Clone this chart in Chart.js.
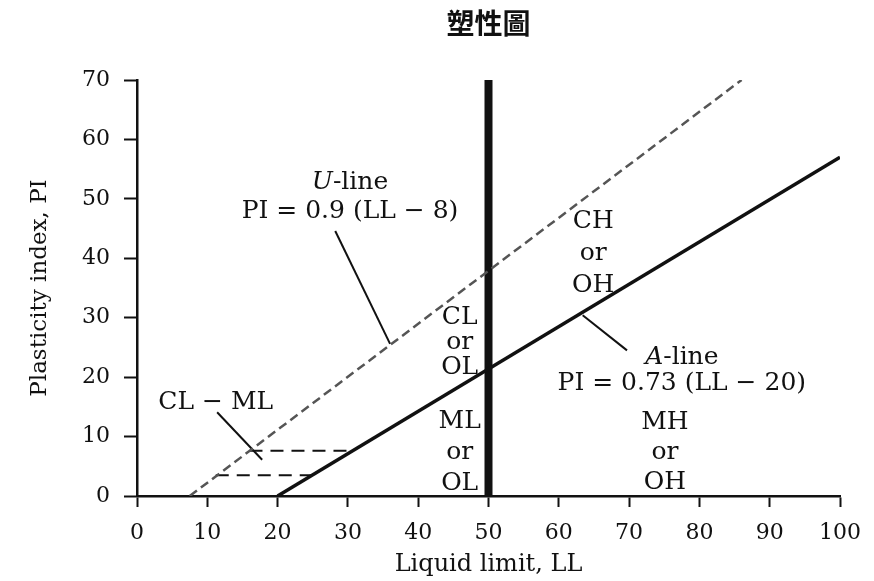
<!DOCTYPE html>
<html>
<head>
<meta charset="utf-8">
<title>塑性圖</title>
<script src="https://cdn.jsdelivr.net/npm/chart.js@4/dist/chart.umd.min.js"></script>
<style>
    html, body { margin: 0; padding: 0; background: #fff; }
    #wrap { width: 874px; height: 581px; }
</style>
</head>
<body>
<div id="wrap"><canvas id="chart" width="874" height="581"></canvas></div>
<script>
/* global Chart */

// data (LL, PI)
const X_TICKS = [0, 10, 20, 30, 40, 50, 60, 70, 80, 90, 100],
    Y_TICKS = [0, 10, 20, 30, 40, 50, 60, 70],
    U_LINE = [{x: 7.5, y: 0}, {x: 86, y: 70}],
    A_LINE = [{x: 20, y: 0}, {x: 100, y: 57}],
    LL_50_LINE = [{x: 50, y: 0}, {x: 50, y: 70}],
    CLML_UPPER = [{x: 16, y: 7.6}, {x: 30.8, y: 7.6}],
    CLML_LOWER = [{x: 11.2, y: 3.5}, {x: 24.9, y: 3.5}],
    U_LEADER = [{x: 28.2, y: 44.6}, {x: 36, y: 25.6}],
    A_LEADER = [{x: 63.4, y: 30.4}, {x: 69.7, y: 24.5}],
    CLML_LEADER = [{x: 11.4, y: 14.1}, {x: 17.8, y: 6.1}];

const TITLE = "塑性圖",
    LABEL_X_AXIS = "Liquid limit, LL",
    LABEL_Y_AXIS = "Plasticity index, PI",
    TEXT_COLOR = "#111111",
    NOTE_SIZE = 25,
    SERIF = "'DejaVu Serif', 'Liberation Serif', serif";

// text notes, anchored in data units (centre of the block)
const NOTES = [
    {lines: [[["U", true], ["-line", false]], [["PI = 0.9 (LL − 8)", false]]], ll: 30.3, pi: 50.3, gap: 29},
    {lines: [[["CL", false]], [["or", false]], [["OL", false]]], ll: 45.9, pi: 25.8, gap: 25},
    {lines: [[["ML", false]], [["or", false]], [["OL", false]]], ll: 45.9, pi: 7.4, gap: 31},
    {lines: [[["CH", false]], [["or", false]], [["OH", false]]], ll: 64.9, pi: 40.8, gap: 32},
    {lines: [[["MH", false]], [["or", false]], [["OH", false]]], ll: 75.1, pi: 7.4, gap: 30},
    {lines: [[["CL − ML", false]]], ll: 11.2, pi: 15.8, gap: 0},
    {lines: [[["A", true], ["-line", false]], [["PI = 0.73 (LL − 20)", false]]], ll: 77.5, pi: 21.2, gap: 26},
];

function lineSet(data, width, color, dash) {
    return {
        data: data,
        showLine: true,
        borderColor: color,
        borderWidth: width,
        borderDash: dash || [],
        pointRadius: 0,
        pointHoverRadius: 0,
        tension: 0,
        fill: false,
    };
}

function createDataSets() {
    return [
        lineSet(U_LINE, 2.5, "#555555", [9, 5]),
        lineSet(A_LINE, 3.5, "#111111"),
        lineSet(LL_50_LINE, 8, "#111111"),
        lineSet(CLML_UPPER, 2, "#111111", [13, 8]),
        lineSet(CLML_LOWER, 2, "#111111", [13, 8]),
        lineSet(U_LEADER, 2, "#111111"),
        lineSet(A_LEADER, 2, "#111111"),
        lineSet(CLML_LEADER, 2, "#111111"),
    ];
}

function noteFont(italic) {
    return (italic ? "italic " : "") + NOTE_SIZE + "px " + SERIF;
}

function drawRuns(ctx, runs, cx, cy) {
    let total = 0;
    const widths = runs.map((run) => {
        ctx.font = noteFont(run[1]);
        const w = ctx.measureText(run[0]).width;
        total += w;
        return w;
    });
    let x = cx - total / 2;
    runs.forEach((run, i) => {
        ctx.font = noteFont(run[1]);
        ctx.fillText(run[0], x, cy);
        x += widths[i];
    });
}

const notesPlugin = {
    id: "notes",
    afterDatasetsDraw(chart) {
        const ctx = chart.ctx,
            xs = chart.scales.x,
            ys = chart.scales.y;
        ctx.save();
        ctx.fillStyle = TEXT_COLOR;
        ctx.textAlign = "left";
        ctx.textBaseline = "middle";
        NOTES.forEach((note) => {
            const cx = xs.getPixelForValue(note.ll),
                cy = ys.getPixelForValue(note.pi),
                top = cy - note.gap * (note.lines.length - 1) / 2;
            note.lines.forEach((runs, i) => {
                drawRuns(ctx, runs, cx, top + i * note.gap);
            });
        });
        ctx.restore();
    },
};

function createChart(context) {
    return new Chart(context, {
        type: "scatter",
        data: {
            datasets: createDataSets(),
        },
        options: {
            responsive: false,
            animation: false,
            layout: {
                padding: {top: 0, right: 34, bottom: 0, left: 0},
            },
            plugins: {
                legend: {display: false},
                tooltip: {enabled: false},
                title: {
                    display: true,
                    text: TITLE,
                    fullSize: false,
                    color: TEXT_COLOR,
                    font: {family: "'Noto Sans CJK TC', 'Noto Sans CJK SC', sans-serif", size: 28, weight: "bold"},
                    padding: {top: 7, bottom: 39.4},
                },
            },
            scales: {
                x: {
                    type: "linear",
                    min: 0,
                    max: 100,
                    afterFit(scale) { scale.height = 85; },
                    afterBuildTicks(scale) { scale.ticks = X_TICKS.map((v) => ({value: v})); },
                    title: {
                        display: true,
                        text: LABEL_X_AXIS,
                        color: TEXT_COLOR,
                        font: {family: SERIF, size: 24},
                        padding: {top: 0, bottom: 2},
                    },
                    ticks: {
                        color: TEXT_COLOR,
                        font: {family: SERIF, size: 22},
                        padding: 13,
                        maxRotation: 0,
                    },
                    grid: {
                        drawOnChartArea: false,
                        drawTicks: true,
                        tickLength: 11,
                        tickWidth: 2,
                        tickColor: "#111111",
                    },
                    border: {display: true, color: "#111111", width: 2.5},
                },
                y: {
                    type: "linear",
                    min: 0,
                    max: 70,
                    afterFit(scale) { scale.width = 137; },
                    afterBuildTicks(scale) { scale.ticks = Y_TICKS.map((v) => ({value: v})); },
                    title: {
                        display: true,
                        text: LABEL_Y_AXIS,
                        color: TEXT_COLOR,
                        font: {family: SERIF, size: 23},
                        padding: {top: 26, bottom: 0},
                    },
                    ticks: {
                        color: TEXT_COLOR,
                        font: {family: SERIF, size: 22},
                        padding: 14,
                    },
                    grid: {
                        drawOnChartArea: false,
                        drawTicks: true,
                        tickLength: 13,
                        tickWidth: 2,
                        tickColor: "#111111",
                    },
                    border: {display: true, color: "#111111", width: 2.5},
                },
            },
        },
        plugins: [notesPlugin],
    });
}

createChart(document.getElementById("chart").getContext("2d"));
</script>
</body>
</html>
